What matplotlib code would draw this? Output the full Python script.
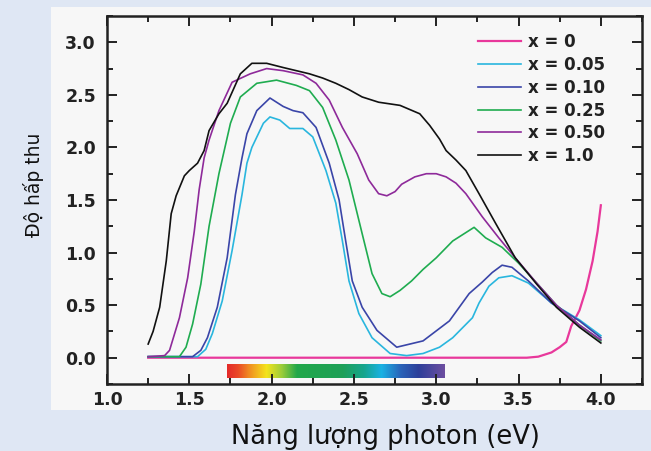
import matplotlib
matplotlib.use("Agg")
import matplotlib.pyplot as plt
import numpy as np
from matplotlib.patches import Rectangle
from matplotlib.colors import LinearSegmentedColormap
from matplotlib.ticker import MultipleLocator

# ---------------- data ----------------
labels = ["x = 0", "x = 0.05", "x = 0.10", "x = 0.25", "x = 0.50", "x = 1.0"]
colors = ["#e8389b", "#29b6de", "#3a45a8", "#1fac50", "#8e2a9a", "#111111"]

x0_x = [1.25, 3.00, 3.55, 3.62, 3.70, 3.75, 3.79, 3.82, 3.87, 3.91, 3.95, 3.98, 4.00]
x0_y = [0.00, 0.00, 0.00, 0.01, 0.05, 0.10, 0.15, 0.30, 0.45, 0.65, 0.92, 1.20, 1.45]

x005_x = [1.25, 1.55, 1.60, 1.64, 1.70, 1.76, 1.82, 1.85, 1.88, 1.95, 1.99, 2.05, 2.11, 2.19,
          2.25, 2.33, 2.39, 2.43, 2.47, 2.53, 2.61, 2.72, 2.82, 2.92, 3.02, 3.10, 3.22, 3.26,
          3.32, 3.38, 3.46, 3.56, 3.70, 3.87, 4.00]
x005_y = [0.01, 0.01, 0.08, 0.23, 0.54, 1.02, 1.55, 1.85, 2.00, 2.23, 2.29, 2.26, 2.18, 2.18,
          2.10, 1.78, 1.47, 1.11, 0.73, 0.42, 0.19, 0.04, 0.02, 0.04, 0.10, 0.19, 0.38, 0.52,
          0.68, 0.76, 0.78, 0.71, 0.52, 0.36, 0.21]

x010_x = [1.25, 1.52, 1.57, 1.61, 1.67, 1.73, 1.78, 1.82, 1.85, 1.91, 1.99, 2.07, 2.13, 2.19,
          2.27, 2.35, 2.41, 2.45, 2.49, 2.55, 2.64, 2.76, 2.92, 3.08, 3.20, 3.28, 3.34, 3.40,
          3.46, 3.56, 3.70, 3.87, 4.00]
x010_y = [0.01, 0.01, 0.07, 0.19, 0.48, 0.95, 1.55, 1.90, 2.13, 2.35, 2.47, 2.39, 2.35, 2.33,
          2.19, 1.85, 1.50, 1.11, 0.73, 0.48, 0.26, 0.10, 0.16, 0.35, 0.61, 0.72, 0.81, 0.88,
          0.86, 0.73, 0.52, 0.35, 0.19]

x025_x = [1.25, 1.44, 1.48, 1.52, 1.57, 1.62, 1.68, 1.75, 1.81, 1.91, 2.03, 2.15, 2.23, 2.31,
          2.39, 2.47, 2.55, 2.61, 2.67, 2.72, 2.78, 2.85, 2.92, 3.00, 3.10, 3.20, 3.23, 3.30,
          3.40, 3.50, 3.61, 3.73, 3.87, 4.00]
x025_y = [0.01, 0.01, 0.10, 0.32, 0.70, 1.25, 1.75, 2.23, 2.48, 2.61, 2.64, 2.59, 2.54, 2.38,
          2.07, 1.69, 1.18, 0.80, 0.61, 0.58, 0.64, 0.73, 0.84, 0.95, 1.11, 1.21, 1.24, 1.14,
          1.05, 0.90, 0.71, 0.50, 0.31, 0.16]

x050_x = [1.25, 1.35, 1.38, 1.44, 1.49, 1.53, 1.56, 1.59, 1.62, 1.68, 1.76, 1.87, 1.97, 2.07,
          2.19, 2.27, 2.35, 2.43, 2.52, 2.59, 2.65, 2.70, 2.75, 2.79, 2.87, 2.94, 3.00, 3.06,
          3.12, 3.18, 3.28, 3.38, 3.48, 3.61, 3.73, 3.87, 4.00]
x050_y = [0.01, 0.02, 0.07, 0.38, 0.76, 1.20, 1.60, 1.90, 2.07, 2.35, 2.62, 2.70, 2.75, 2.73,
          2.69, 2.61, 2.45, 2.19, 1.94, 1.69, 1.56, 1.54, 1.58, 1.65, 1.72, 1.75, 1.75, 1.72,
          1.66, 1.56, 1.34, 1.14, 0.95, 0.71, 0.50, 0.31, 0.17]

x100_x = [1.25, 1.28, 1.32, 1.36, 1.39, 1.42, 1.47, 1.50, 1.55, 1.59, 1.62, 1.68, 1.73, 1.81,
          1.88, 1.97, 2.07, 2.15, 2.23, 2.31, 2.39, 2.47, 2.55, 2.65, 2.78, 2.90, 2.96, 3.02,
          3.06, 3.12, 3.18, 3.26, 3.36, 3.48, 3.61, 3.73, 3.87, 4.00]
x100_y = [0.13, 0.25, 0.48, 0.92, 1.37, 1.54, 1.73, 1.78, 1.85, 1.97, 2.16, 2.32, 2.42, 2.70,
          2.80, 2.80, 2.76, 2.73, 2.70, 2.66, 2.61, 2.55, 2.48, 2.43, 2.40, 2.32, 2.21, 2.08,
          1.97, 1.88, 1.78, 1.56, 1.28, 0.95, 0.70, 0.48, 0.29, 0.14]

series_x = [x0_x, x005_x, x010_x, x025_x, x050_x, x100_x]
series_y = [x0_y, x005_y, x010_y, x025_y, x050_y, x100_y]

xticks = [1.0, 1.5, 2.0, 2.5, 3.0, 3.5, 4.0]
yticks = [0.0, 0.5, 1.0, 1.5, 2.0, 2.5, 3.0]

# visible spectrum strip
spec_x0, spec_x1 = 1.73, 3.05
spec_y0, spec_y1 = -0.195, -0.065
spec_stops = [0.0, 0.05, 0.10, 0.18, 0.25, 0.32, 0.53, 0.63, 0.71, 0.80, 0.88, 1.0]
spec_cols = ["#e42a2a", "#ea4a26", "#f08c22", "#f4e41c", "#9ccd3a", "#22a84a", "#1ea058",
             "#16a58e", "#1ab2e4", "#2a62b8", "#2d3f9a", "#6c4ea0"]

# ---------------- figure ----------------
W, H = 651, 451
fig = plt.figure(figsize=(W / 100, H / 100), dpi=100, facecolor="#dfe7f4")
fig.patches.append(Rectangle((51 / W, 1 - 410 / H), 600 / W, 403 / H,
                             transform=fig.transFigure, facecolor="#f7f7f7",
                             edgecolor="none", zorder=-10))

ax = fig.add_axes([107 / W, 1 - 384 / H, (642 - 107) / W, (384 - 16) / H])
ax.set_zorder(2)
ax.set_facecolor("#f7f7f7")

for xs, ys, c, lab in zip(series_x, series_y, colors, labels):
    lw = 1.6 if lab == "x = 0" else 1.2
    ax.plot(xs, ys, color=c, lw=lw, label=lab, solid_joinstyle="round")

cmap = LinearSegmentedColormap.from_list("spec", list(zip(spec_stops, spec_cols)))
grad = np.linspace(0, 1, 256).reshape(1, -1)
ax.imshow(grad, cmap=cmap, aspect="auto", extent=[spec_x0, spec_x1, spec_y0, spec_y1],
          zorder=1)

ax.set_xlim(1.0, 4.25)
ax.set_ylim(-0.25, 3.25)
ax.set_xticks(xticks)
ax.set_yticks(yticks)
ax.set_xticklabels([f"{v:.1f}" for v in xticks])
ax.set_yticklabels([f"{v:.1f}" for v in yticks])
ax.xaxis.set_minor_locator(MultipleLocator(0.25))
ax.yaxis.set_minor_locator(MultipleLocator(0.25))
ax.tick_params(which="both", direction="in", top=True, right=True, width=1.4,
               color="#222222")
ax.tick_params(which="major", length=7)
ax.tick_params(axis="x", which="major", pad=5)
ax.tick_params(axis="y", which="major", pad=8)
ax.tick_params(which="minor", length=4)
for lab in ax.get_xticklabels() + ax.get_yticklabels():
    lab.set_fontsize(12.5)
    lab.set_fontweight("bold")
    lab.set_color("#222222")
for sp in ax.spines.values():
    sp.set_linewidth(1.8)
    sp.set_color("#222222")

leg = ax.legend(loc="upper left", bbox_to_anchor=(478 / W, 1 - 33 / H),
                bbox_transform=fig.transFigure,
                frameon=False, handlelength=2.6, handletextpad=0.4,
                labelspacing=0.29, borderpad=0, borderaxespad=0,
                prop={"weight": "bold", "size": 12})
for t in leg.get_texts():
    t.set_color("#222222")

fig.text(34 / W, 1 - 185 / H, "Độ hấp thu", rotation=90, ha="center", va="center",
         fontsize=13.5, color="#111111")
fig.text(385 / W, 1 - 437 / H, "Năng lượng photon (eV)", ha="center", va="center",
         fontsize=18.5, color="#111111")

fig.savefig("out.png", dpi=100, facecolor=fig.get_facecolor())
